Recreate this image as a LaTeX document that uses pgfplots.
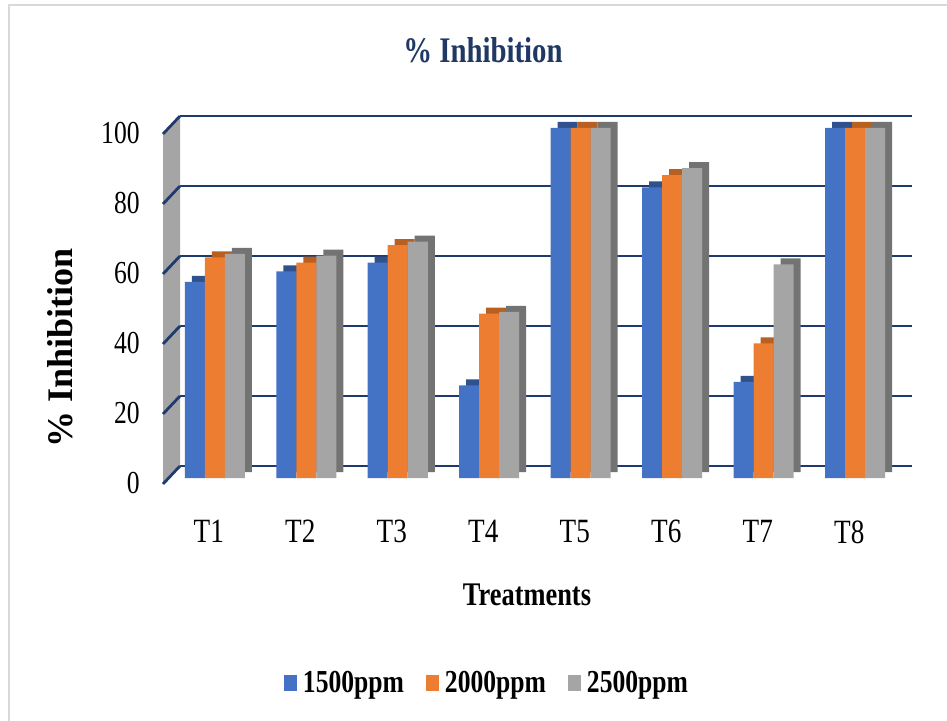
\documentclass[border=0pt]{standalone}
\usepackage{pgfplots}
\usepackage{pgfplotstable}
\pgfplotsset{compat=1.18}
\usepackage{fontspec}
\setmainfont{Liberation Serif}[FakeStretch=0.8]
\newfontfamily\plainserif{Liberation Serif}

\definecolor{cblue}{HTML}{4472C4}
\definecolor{cblueD}{HTML}{2F528F}
\definecolor{corange}{HTML}{ED7D31}
\definecolor{corangeD}{HTML}{B8601F}
\definecolor{cgray}{HTML}{A5A5A5}
\definecolor{cgrayD}{HTML}{737373}
\definecolor{gridnavy}{HTML}{1F3A6E}
\definecolor{titlenavy}{HTML}{1F3864}

% % inhibition per treatment and concentration
\pgfplotstableread{
x  a     b     c
1  56    63    64
2  59    61.5  63.5
3  61.5  66.5  67.5
4  26.5  47    47.5
5  100   100   100
6  83    86.5  88.5
7  27.5  38.5  61
8  100   100   100
}\inhib

\begin{document}
\begin{tikzpicture}
\useasboundingbox (0,0) rectangle (473.5pt,-360.5pt);

\begin{axis}[
    at={(84.5pt,-239pt)}, anchor=south west,
    scale only axis,
    width=366pt, height=175pt,
    xmin=0.5, xmax=8.5,
    ymin=0, ymax=100,
    clip=false,
    axis line style={draw=none},
    major tick length=0pt,
    xtick={1,...,8},
    xticklabels={T1,T2,T3,T4,T5,T6,T7,T8},
    ytick={0,20,...,100},
    ymajorgrids=true,
    major grid style={draw=gridnavy, line width=1.4pt, xshift=5.5pt, yshift=6pt},
    /pgf/number format/assume math mode=true,
    yticklabel style={font=\fontsize{16}{18}\selectfont, anchor=east, inner sep=0pt, xshift=-14.5pt, yshift=-2.5pt},
    xticklabel style={font=\fontsize{17}{19}\selectfont, anchor=north, inner sep=0pt, yshift=-21pt, xshift=-3pt},
    legend style={at={(axis description cs:0.5,0)}, anchor=center, xshift=-23.5pt, yshift=-102.5pt,
        draw=none, fill=none, legend columns=-1,
        font=\bfseries\fontsize{16}{18}\selectfont,
        /tikz/every odd column/.append style={column sep=1pt},
        /tikz/every even column/.append style={column sep=9pt}},
    legend image code/.code={\fill[#1] (0pt,-4pt) rectangle (6.5pt,4pt);},
]

% left wall and the little diagonal ticks
\fill[cgray] ([shift={(-3pt,-3pt)}]axis cs:0.5,0) -- ([shift={(-3pt,-3pt)}]axis cs:0.5,100)
    -- ([shift={(5.5pt,6pt)}]axis cs:0.5,100) -- ([shift={(5.5pt,6pt)}]axis cs:0.5,0) -- cycle;
\pgfplotsinvokeforeach{0,20,40,60,80,100}{
  \draw[gridnavy, line width=1.4pt] ([shift={(-3pt,-3pt)}]axis cs:0.5,#1) -- ([shift={(5.5pt,6pt)}]axis cs:0.5,#1);
}

% darker copies behind each bar give the top and side faces
\addplot[ybar, bar width=10pt, bar shift=-10pt, fill=cblueD, draw=none, xshift=3.5pt, yshift=3pt, forget plot] table[x=x,y=a]{\inhib};
\addplot[ybar, bar width=10pt, bar shift=-10pt, fill=cblue, draw=none] table[x=x,y=a]{\inhib};
\addplot[ybar, bar width=10pt, bar shift=0pt, fill=corangeD, draw=none, xshift=3.5pt, yshift=3pt, forget plot] table[x=x,y=b]{\inhib};
\addplot[ybar, bar width=10pt, bar shift=0pt, fill=corange, draw=none] table[x=x,y=b]{\inhib};
\addplot[ybar, bar width=10pt, bar shift=10pt, fill=cgrayD, draw=none, xshift=3.5pt, yshift=3pt, forget plot] table[x=x,y=c]{\inhib};
\addplot[ybar, bar width=10pt, bar shift=10pt, fill=cgray, draw=none] table[x=x,y=c]{\inhib};

\legend{1500ppm, 2000ppm, 2500ppm}
\end{axis}

\begin{scope}[x=0.5pt, y=-0.5pt]
  \draw[black!15, line width=1pt] (9,740) -- (9,5) -- (960,5);
  \node[font=\bfseries\fontsize{18}{20}\selectfont, text=titlenavy] at (483,50) {\% Inhibition};
  \node[font=\bfseries\fontsize{16.5}{18}\selectfont] at (527,595) {Treatments};
  \node[rotate=90, font=\plainserif\bfseries\fontsize{18}{20}\selectfont] at (60,348) {\% Inhibition};
\end{scope}
\end{tikzpicture}
\end{document}
